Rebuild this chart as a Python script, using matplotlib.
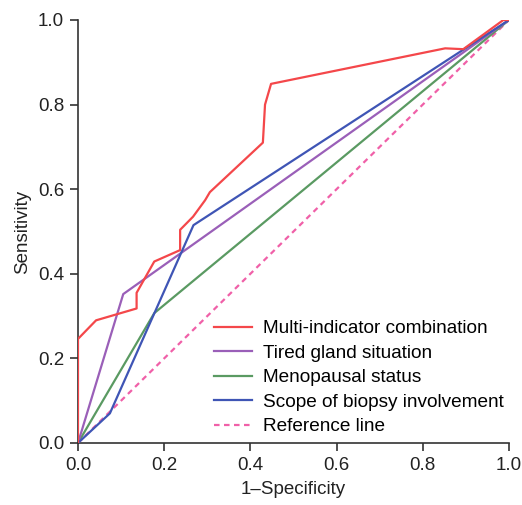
import matplotlib
matplotlib.use("Agg")
import matplotlib.pyplot as plt

plt.rcParams['font.family'] = ['Liberation Sans', 'DejaVu Sans']

# ROC curve points (1-specificity, sensitivity)
multi_fpr = [0.0, 0.0, 0.042, 0.136, 0.136, 0.177, 0.237, 0.237, 0.267, 0.295, 0.306,
             0.429, 0.434, 0.448, 0.852, 0.894, 0.987, 1.0]
multi_tpr = [0.0, 0.246, 0.29, 0.318, 0.355, 0.429, 0.456, 0.504, 0.535, 0.574, 0.593,
             0.71, 0.80, 0.849, 0.933, 0.931, 1.0, 1.0]

gland_fpr = [0.0, 0.105, 1.0]
gland_tpr = [0.0, 0.352, 1.0]

meno_fpr = [0.0, 0.177, 1.0]
meno_tpr = [0.0, 0.307, 1.0]

scope_fpr = [0.0, 0.074, 0.268, 1.0]
scope_tpr = [0.0, 0.07, 0.515, 1.0]

ref_x = [0.0, 1.0]
ref_y = [0.0, 1.0]

labels = ["Multi-indicator combination", "Tired gland situation",
          "Menopausal status", "Scope of biopsy involvement", "Reference line"]

fig = plt.figure(figsize=(5.22, 5.05), dpi=100)
ax = fig.add_axes([0.1494, 0.1228, 0.8256, 0.8376])

ax.plot(ref_x, ref_y, color='#f060a8', lw=1.6, ls=(0, (2.5, 2)), label=labels[4], zorder=1)
ax.plot(meno_fpr, meno_tpr, color='#5a9a62', lw=1.6, label=labels[2], zorder=2)
ax.plot(gland_fpr, gland_tpr, color='#9a5fb8', lw=1.6, label=labels[1], zorder=3)
ax.plot(scope_fpr, scope_tpr, color='#3f55b5', lw=1.6, label=labels[3], zorder=4)
ax.plot(multi_fpr, multi_tpr, color='#f4474a', lw=1.6, label=labels[0], zorder=5)

ax.set_xlim(0, 1)
ax.set_ylim(0, 1)
ax.set_xticks([0, 0.2, 0.4, 0.6, 0.8, 1.0])
ax.set_yticks([0, 0.2, 0.4, 0.6, 0.8, 1.0])
ax.set_xticklabels(["0.0", "0.2", "0.4", "0.6", "0.8", "1.0"])
ax.set_yticklabels(["0.0", "0.2", "0.4", "0.6", "0.8", "1.0"])

for s in ['top', 'right']:
    ax.spines[s].set_visible(False)
for s in ['left', 'bottom']:
    ax.spines[s].set_color('#333333')
    ax.spines[s].set_linewidth(1.2)
ax.tick_params(direction='out', length=6, width=1.2, color='#333333',
               labelsize=13.5, labelcolor='#222222', pad=4)

ax.set_xlabel("1\u2013Specificity", fontsize=13.5, color='#222222', labelpad=5)
ax.set_ylabel("Sensitivity", fontsize=13.5, color='#222222', labelpad=5)

handles, lbls = ax.get_legend_handles_labels()
order = [lbls.index(l) for l in labels]
ax.legend([handles[i] for i in order], [lbls[i] for i in order],
          loc='lower right', bbox_to_anchor=(1.005, 0.0), frameon=False,
          fontsize=13.7, handlelength=2.0, handletextpad=0.55, labelspacing=0.38,
          borderaxespad=0.2, borderpad=0.2)

fig.savefig("out.png", dpi=100)
